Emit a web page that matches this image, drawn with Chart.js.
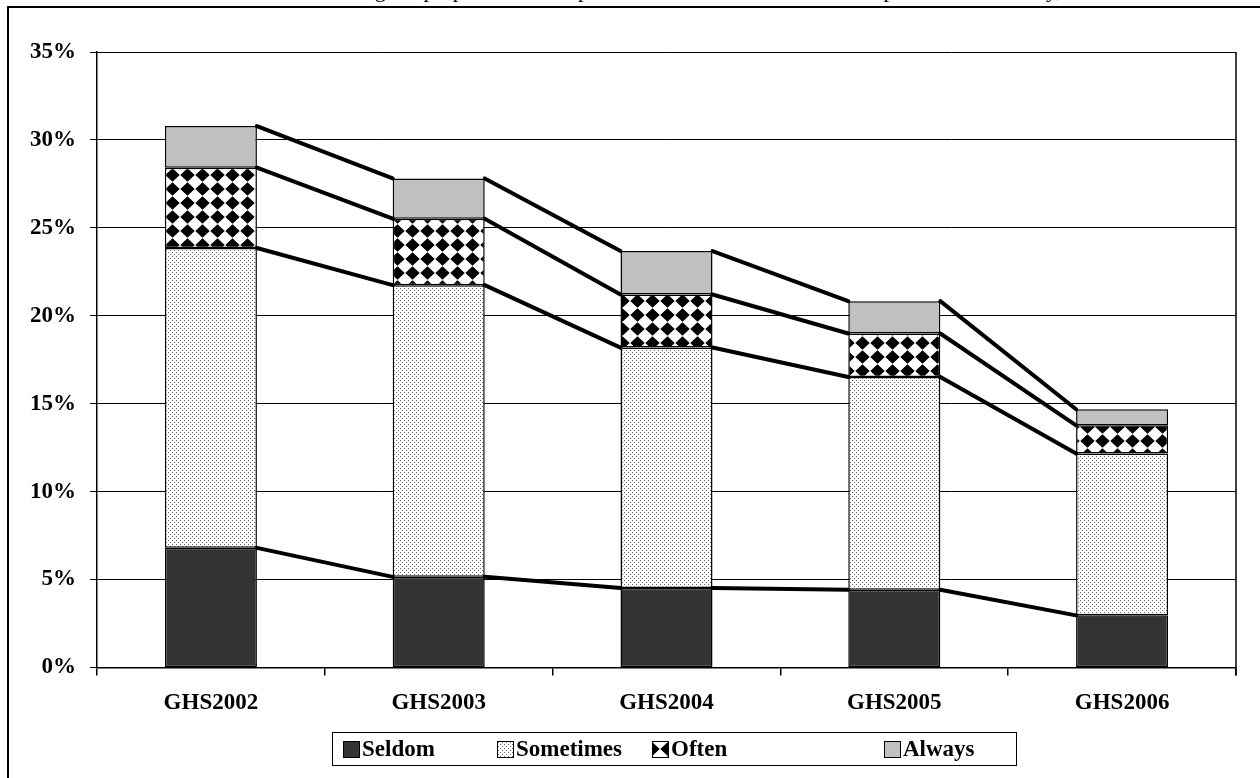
<!DOCTYPE html>
<html>
<head>
<meta charset="utf-8">
<script src="https://cdn.jsdelivr.net/npm/chart.js@4"></script>
<style>
  body { margin: 0; background: #fff; overflow: hidden; }
  #rahmen { position: absolute; left: 7px; top: 6px; width: 1300px; height: 800px; border: 2px solid #000; }
  #titel { position: absolute; right: 10px; top: -23px; font: 22px "Liberation Serif", "Times New Roman", serif; white-space: nowrap; color: #000; }
  #wrap { position: absolute; left: 0; top: 0; width: 1260px; height: 778px; }
</style>
</head>
<body>
<div id="titel">Change in proportion of the passive smokers at home from the phone based survey, GHS2002-GHS2006</div>
<div id="rahmen"></div>
<div id="wrap"><canvas id="chart"></canvas></div>
<script>
// Daten (Prozent je Stufe, gestapelt)
const categories = ['GHS2002', 'GHS2003', 'GHS2004', 'GHS2005', 'GHS2006'];
const seldom    = [6.80, 5.15, 4.51, 4.42, 2.96];
const sometimes = [17.05, 16.59, 13.68, 12.10, 9.20];
const often     = [4.57, 3.78, 3.02, 2.47, 1.61];
const always    = [2.37, 2.29, 2.47, 1.84, 0.91];
const seriesNames = ['Seldom', 'Sometimes', 'Often', 'Always'];
const yMax = 35, yStep = 5;

const FONT = '"Liberation Serif", "Times New Roman", serif';

// Muster für die Füllungen
function dotPattern() {
    const c = document.createElement('canvas');
    c.width = 4; c.height = 4;
    const g = c.getContext('2d');
    g.fillStyle = '#fff';
    g.fillRect(0, 0, 4, 4);
    g.fillStyle = '#666';
    g.fillRect(0, 0, 1, 1);
    g.fillRect(2, 2, 1, 1);
    return g.createPattern(c, 'repeat');
}

function diamondPattern() {
    const c = document.createElement('canvas');
    c.width = 15; c.height = 14;
    const g = c.getContext('2d');
    g.fillStyle = '#fff';
    g.fillRect(0, 0, 15, 14);
    g.fillStyle = '#000';
    g.beginPath();
    g.moveTo(7.5, 0.3);
    g.lineTo(14.7, 7);
    g.lineTo(7.5, 13.7);
    g.lineTo(0.3, 7);
    g.closePath();
    g.fill();
    return g.createPattern(c, 'repeat');
}

const fills = ['#333333', dotPattern(), diamondPattern(), '#C0C0C0'];
const values = [seldom, sometimes, often, always];

// Verbindungslinien zwischen den Säulen (Reihenlinien)
const seriesLines = {
    id: 'seriesLines',
    afterDatasetsDraw(chart) {
        const ctx = chart.ctx;
        ctx.save();
        ctx.strokeStyle = '#000';
        ctx.lineWidth = 4;
        ctx.lineCap = 'round';
        chart.data.datasets.forEach((ds, d) => {
            const els = chart.getDatasetMeta(d).data;
            for (let i = 0; i < els.length - 1; i++) {
                const a = els[i], b = els[i + 1];
                ctx.beginPath();
                ctx.moveTo(a.x + a.width / 2, a.y);
                ctx.lineTo(b.x - b.width / 2, b.y);
                ctx.stroke();
            }
        });
        ctx.restore();
    }
};

// Rahmen rechts + eigene Legende mit Kasten
const extras = {
    id: 'extras',
    afterDraw(chart) {
        const ctx = chart.ctx;
        const area = chart.chartArea;
        ctx.save();
        ctx.strokeStyle = '#000';
        ctx.lineWidth = 1.5;
        ctx.beginPath();
        ctx.moveTo(area.right, area.top);
        ctx.lineTo(area.right, area.bottom + 8);
        ctx.stroke();

        // Legende
        ctx.lineWidth = 1;
        ctx.strokeRect(332.5, 732.5, 684, 33);
        const xs = [343, 497, 652, 884];
        ctx.font = 'bold 23px ' + FONT;
        ctx.textBaseline = 'middle';
        chart.data.datasets.forEach((ds, i) => {
            const x = xs[i], y = 741;
            ctx.fillStyle = ds.backgroundColor;
            ctx.fillRect(x, y, 16, 16);
            ctx.strokeRect(x + 0.5, y + 0.5, 16, 16);
            ctx.fillStyle = '#000';
            ctx.fillText(ds.label, x + 19, y + 9);
        });
        ctx.restore();
    }
};

const ctx = document.getElementById('chart').getContext('2d');
new Chart(ctx, {
    type: 'bar',
    data: {
        labels: categories,
        datasets: seriesNames.map((name, i) => ({
            label: name,
            data: values[i],
            backgroundColor: fills[i],
            borderColor: '#000',
            borderWidth: 1.5,
            borderSkipped: false,
            barPercentage: 0.404,
            categoryPercentage: 1
        }))
    },
    options: {
        responsive: true,
        maintainAspectRatio: false,
        animation: false,
        layout: { padding: { top: 52, right: 24, left: 10, bottom: 47 } },
        plugins: {
            legend: { display: false },
            tooltip: { enabled: false }
        },
        scales: {
            x: {
                stacked: true,
                grid: { drawOnChartArea: false, drawTicks: true, tickLength: 8, color: '#000', lineWidth: 1.5, offset: true },
                border: { color: '#000', width: 1.5 },
                ticks: { color: '#000', padding: 14, font: { family: FONT, size: 23, weight: 'bold' } }
            },
            y: {
                stacked: true,
                min: 0,
                max: yMax,
                afterFit: s => { s.width = 87; },
                grid: { color: '#000', lineWidth: 1, tickLength: 7 },
                border: { color: '#000', width: 1.5 },
                ticks: {
                    stepSize: yStep,
                    color: '#000',
                    padding: 14,
                    font: { family: FONT, size: 23, weight: 'bold' },
                    callback: v => v + '%'
                }
            }
        }
    },
    plugins: [seriesLines, extras]
});
</script>
</body>
</html>
